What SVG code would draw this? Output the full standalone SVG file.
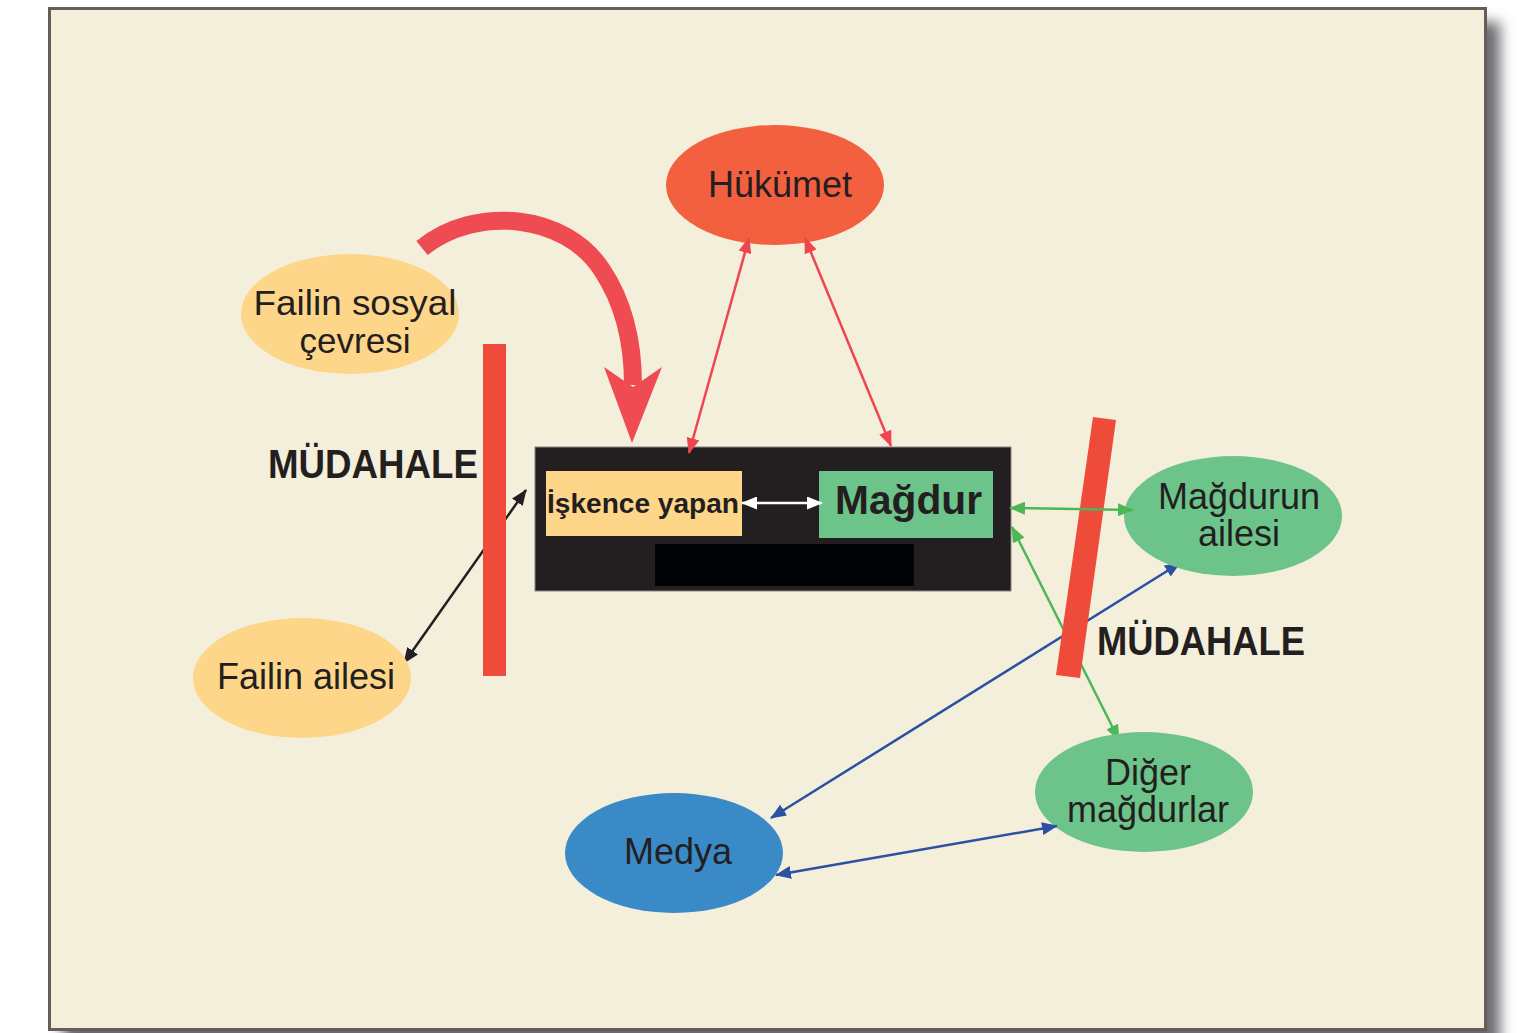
<svg xmlns="http://www.w3.org/2000/svg" width="1540" height="1033" viewBox="0 0 1540 1033">
<defs>
<style>
.lbl{font-family:"Liberation Sans",Arial,sans-serif;font-size:36px;fill:#231F20;text-anchor:middle}
.lbl2{font-family:"Liberation Sans",Arial,sans-serif;font-size:35px;fill:#231F20;text-anchor:middle}
.bold{font-family:"Liberation Sans",Arial,sans-serif;font-weight:bold;fill:#231F20}
.red{stroke:#EF4550;stroke-width:2.5;fill:none}
.blk{stroke:#231F20;stroke-width:2.5;fill:none}
.grn{stroke:#4DB757;stroke-width:2.5;fill:none}
.blu{stroke:#2B50A4;stroke-width:2.5;fill:none}
.wht{stroke:#FFFFFF;stroke-width:2.5;fill:none}
.bar{fill:#EF4B3A}
</style>
<filter id="sh" x="-5%" y="-5%" width="110%" height="110%"><feGaussianBlur stdDeviation="7"/></filter>
<marker id="mr" viewBox="0 0 16 13" refX="15" refY="6.5" markerWidth="16" markerHeight="13" markerUnits="userSpaceOnUse" orient="auto-start-reverse"><path d="M0,0 L16,6.5 L0,13 z" fill="#EF4550"/></marker>
<marker id="mk" viewBox="0 0 16 13" refX="15" refY="6.5" markerWidth="16" markerHeight="13" markerUnits="userSpaceOnUse" orient="auto-start-reverse"><path d="M0,0 L16,6.5 L0,13 z" fill="#231F20"/></marker>
<marker id="mg" viewBox="0 0 16 13" refX="15" refY="6.5" markerWidth="16" markerHeight="13" markerUnits="userSpaceOnUse" orient="auto-start-reverse"><path d="M0,0 L16,6.5 L0,13 z" fill="#4DB757"/></marker>
<marker id="mb" viewBox="0 0 16 13" refX="15" refY="6.5" markerWidth="16" markerHeight="13" markerUnits="userSpaceOnUse" orient="auto-start-reverse"><path d="M0,0 L16,6.5 L0,13 z" fill="#2B50A4"/></marker>
<marker id="mw" viewBox="0 0 16 13" refX="15" refY="6.5" markerWidth="16" markerHeight="13" markerUnits="userSpaceOnUse" orient="auto-start-reverse"><path d="M0,0 L16,6.5 L0,13 z" fill="#FFFFFF"/></marker>
</defs>
<rect width="1540" height="1033" fill="#FFFFFF"/>
<rect x="63" y="22" width="1437" height="1030" fill="#6a6a6e" filter="url(#sh)"/>
<rect x="49.5" y="8.5" width="1436" height="1021" fill="#F4EFDA" stroke="#655C5C" stroke-width="3"/>

<g id="connectors-behind">
<line class="blk" x1="404" y1="663" x2="526" y2="490" marker-start="url(#mk)" marker-end="url(#mk)"/>
<line class="grn" x1="1012" y1="527" x2="1119" y2="740" marker-start="url(#mg)" marker-end="url(#mg)"/>
<line class="blu" x1="1180" y1="563" x2="771" y2="818" marker-start="url(#mb)" marker-end="url(#mb)"/>
</g>

<g id="bar-left"><rect class="bar" x="483" y="344" width="23" height="332"/></g>
<g id="bar-right"><polygon class="bar" points="1093,417 1116,420 1080,678 1056,675"/></g>

<g id="box">
<rect x="535" y="447" width="476" height="144" fill="#231F20" stroke="#8a8580" stroke-width="1"/>
<rect x="655" y="544" width="259" height="42" fill="#020304"/>
</g>
<g id="iskence"><rect x="546" y="471" width="196" height="65" fill="#FDD68A"/><text class="bold" x="547" y="513" font-size="28" textLength="192" lengthAdjust="spacingAndGlyphs">İşkence yapan</text></g>
<g id="magdur"><rect x="819" y="471" width="174" height="67" fill="#6CC48A"/><text class="bold" x="835" y="514" font-size="40" textLength="147" lengthAdjust="spacingAndGlyphs">Mağdur</text></g>

<g id="hukumet"><ellipse cx="775" cy="185" rx="109" ry="60" fill="#F26040"/><text class="lbl" x="780" y="197">Hükümet</text></g>
<g id="sosyal"><ellipse cx="350" cy="314" rx="109" ry="60" fill="#FDD68A"/><text class="lbl2" x="355" y="315" textLength="203" lengthAdjust="spacingAndGlyphs">Failin sosyal</text><text class="lbl2" x="355" y="353">çevresi</text></g>
<g id="failin-ailesi"><ellipse cx="302" cy="678" rx="109" ry="60" fill="#FDD68A"/><text class="lbl" x="306" y="689">Failin ailesi</text></g>
<g id="medya"><ellipse cx="674" cy="853" rx="109" ry="60" fill="#3A8AC8"/><text class="lbl" x="678" y="864">Medya</text></g>
<g id="magdurun-ailesi"><ellipse cx="1233" cy="516" rx="109" ry="60" fill="#6CC48A"/><text class="lbl" x="1239" y="509">Mağdurun</text><text class="lbl" x="1239" y="546">ailesi</text></g>
<g id="diger"><ellipse cx="1144" cy="792" rx="109" ry="60" fill="#6CC48A"/><text class="lbl" x="1148" y="785">Diğer</text><text class="lbl" x="1148" y="822">mağdurlar</text></g>

<g id="connectors">
<path d="M422,248 C475,205 565,213 602,270 C626,306 633,345 633,385" stroke="#EF4B52" stroke-width="18" fill="none"/>
<polygon points="604,367 633,387 662,367 632,443" fill="#EF4B52"/>
<line class="red" x1="749" y1="238" x2="689" y2="453" marker-start="url(#mr)" marker-end="url(#mr)"/>
<line class="red" x1="805" y1="238" x2="891" y2="446" marker-start="url(#mr)" marker-end="url(#mr)"/>
<line class="wht" x1="742" y1="503" x2="822" y2="503" marker-start="url(#mw)" marker-end="url(#mw)"/>
<line class="grn" x1="1010" y1="508" x2="1133" y2="510" marker-start="url(#mg)" marker-end="url(#mg)"/>
<line class="blu" x1="776" y1="875" x2="1057" y2="826" marker-start="url(#mb)" marker-end="url(#mb)"/>
</g>

<g id="labels">
<text class="bold" x="268" y="478" font-size="40" textLength="210" lengthAdjust="spacingAndGlyphs">MÜDAHALE</text>
<text class="bold" x="1097" y="655" font-size="40" textLength="208" lengthAdjust="spacingAndGlyphs">MÜDAHALE</text>
</g>
</svg>
